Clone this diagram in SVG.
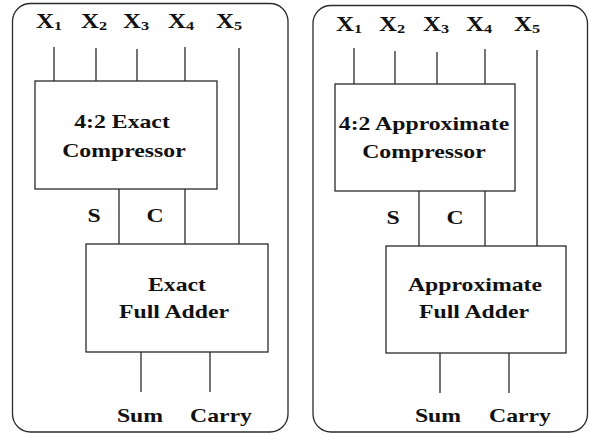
<svg xmlns="http://www.w3.org/2000/svg" width="590" height="434" viewBox="0 0 590 434">
<style>
.frame{fill:none;stroke:#2a2a2a;stroke-width:1.3}
.box{fill:#fff;stroke:#2a2a2a;stroke-width:1.3}
.wire{stroke:#2a2a2a;stroke-width:1.3;fill:none}
.t{font-family:'Liberation Serif','DejaVu Serif',serif;font-weight:700;font-size:19px;fill:#111;text-anchor:middle}
.x{font-size:20px}
.sub{font-size:13px}
</style>
<rect width="590" height="434" fill="#fff"/>
<g id="panel-exact">
  <rect class="frame" x="12.5" y="3.5" width="275.5" height="428.5" rx="18" ry="18"/>
</g>
<g id="panel-approx">
  <rect class="frame" x="313" y="5.5" width="274.5" height="426.5" rx="18" ry="18"/>
</g>
<g id="connectors">
  <path class="wire" d="M54 47V81M96 48V81M137 49V81M185 47V81M239 48V244M119 189V244M185 189V244M141 352V392M210 352V392"/>
  <path class="wire" d="M354 48V84M395 51V84M437 52V84M485 49V84M537 50V246M419 191V246M485 191V246M440 353V393M509 353V393"/>
</g>
<g class="t" font-family="Liberation Serif, serif">
<g id="inputs-exact">
  <text class="t x" transform="translate(49 28) scale(1.25 1)">X<tspan class="sub" dy="2">1</tspan></text>
  <text class="t x" transform="translate(94 28) scale(1.25 1)">X<tspan class="sub" dy="2">2</tspan></text>
  <text class="t x" transform="translate(136 28) scale(1.25 1)">X<tspan class="sub" dy="2">3</tspan></text>
  <text class="t x" transform="translate(181 28) scale(1.25 1)">X<tspan class="sub" dy="2">4</tspan></text>
  <text class="t x" transform="translate(229 28) scale(1.25 1)">X<tspan class="sub" dy="2">5</tspan></text>
</g>
<g id="compressor-exact">
  <rect class="box" x="35" y="81" width="182" height="108"/>
  <text class="t" transform="translate(122 128) scale(1.25 1)">4:2 Exact</text>
  <text class="t" transform="translate(124 157) scale(1.25 1)">Compressor</text>
</g>
<g id="sc-exact">
  <text class="t" transform="translate(94 222) scale(1.25 1)">S</text>
  <text class="t" transform="translate(155 222) scale(1.25 1)">C</text>
</g>
<g id="fulladder-exact">
  <rect class="box" x="86" y="244" width="182" height="108"/>
  <text class="t" transform="translate(177 291) scale(1.25 1)">Exact</text>
  <text class="t" transform="translate(174 318) scale(1.25 1)">Full Adder</text>
</g>
<g id="outputs-exact">
  <text class="t" transform="translate(140 422) scale(1.25 1)">Sum</text>
  <text class="t" transform="translate(221 422) scale(1.25 1)">Carry</text>
</g>
<g id="inputs-approx">
  <text class="t x" transform="translate(349 31) scale(1.25 1)">X<tspan class="sub" dy="2">1</tspan></text>
  <text class="t x" transform="translate(392 31) scale(1.25 1)">X<tspan class="sub" dy="2">2</tspan></text>
  <text class="t x" transform="translate(436 31) scale(1.25 1)">X<tspan class="sub" dy="2">3</tspan></text>
  <text class="t x" transform="translate(479 31) scale(1.25 1)">X<tspan class="sub" dy="2">4</tspan></text>
  <text class="t x" transform="translate(527 31) scale(1.25 1)">X<tspan class="sub" dy="2">5</tspan></text>
</g>
<g id="compressor-approx">
  <rect class="box" x="335" y="84" width="180" height="107"/>
  <text class="t" transform="translate(424 130) scale(1.25 1)">4:2 Approximate</text>
  <text class="t" transform="translate(424 158) scale(1.25 1)">Compressor</text>
</g>
<g id="sc-approx">
  <text class="t" transform="translate(393 224) scale(1.25 1)">S</text>
  <text class="t" transform="translate(455 224) scale(1.25 1)">C</text>
</g>
<g id="fulladder-approx">
  <rect class="box" x="386" y="246" width="180" height="107"/>
  <text class="t" transform="translate(475 291) scale(1.25 1)">Approximate</text>
  <text class="t" transform="translate(474 318) scale(1.25 1)">Full Adder</text>
</g>
<g id="outputs-approx">
  <text class="t" transform="translate(438 422) scale(1.25 1)">Sum</text>
  <text class="t" transform="translate(520 422) scale(1.25 1)">Carry</text>
</g>
</g>
</svg>
